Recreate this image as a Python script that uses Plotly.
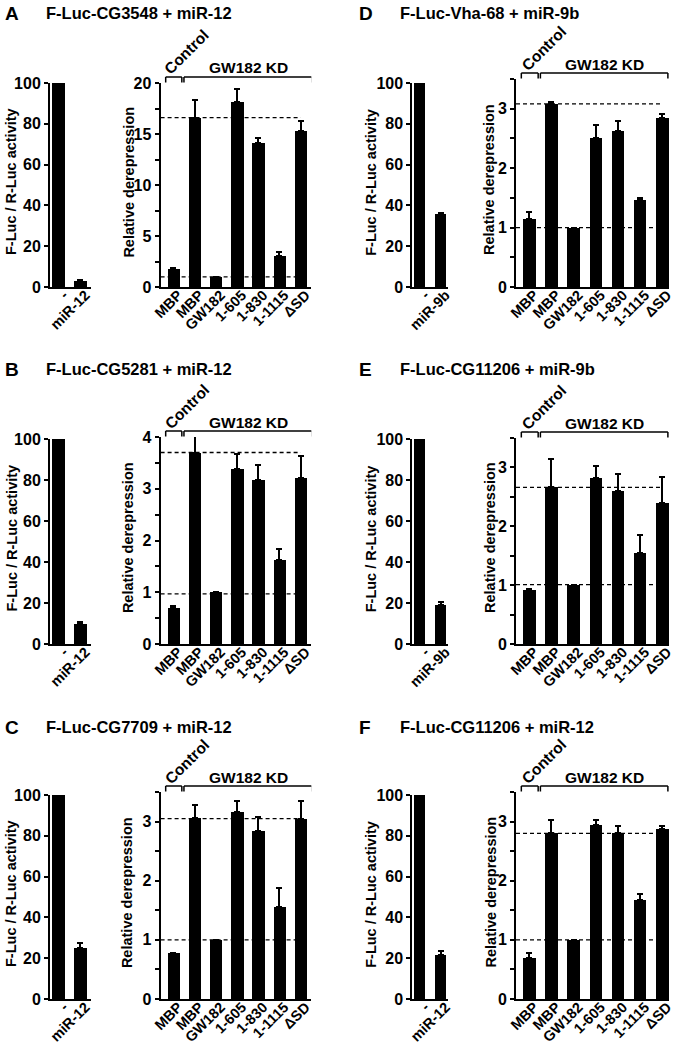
import plotly.graph_objects as go

# ---------------- data ----------------
conditions = ["MBP", "MBP", "GW182", "1-605", "1-830", "1-1115", "ΔSD"]
panel_letters = ["A", "B", "C", "D", "E", "F"]
reporters = ["F-Luc-CG3548", "F-Luc-CG5281", "F-Luc-CG7709",
             "F-Luc-Vha-68", "F-Luc-CG11206", "F-Luc-CG11206"]
mirnas = ["miR-12", "miR-12", "miR-12", "miR-9b", "miR-9b", "miR-12"]

activity_A = [100, 3.0]
activity_err_A = [0, 0.5]
activity_B = [100, 10.0]
activity_err_B = [0, 0.8]
activity_C = [100, 25.0]
activity_err_C = [0, 2.5]
activity_D = [100, 36.0]
activity_err_D = [0, 0.5]
activity_E = [100, 19.0]
activity_err_E = [0, 1.6]
activity_F = [100, 21.5]
activity_err_F = [0, 2.0]

derep_A = [1.75, 16.6, 1.0, 18.1, 14.1, 3.0, 15.3]
derep_err_A = [0.15, 1.75, 0.0, 1.3, 0.5, 0.4, 1.0]
derep_B = [0.70, 3.70, 1.0, 3.38, 3.16, 1.63, 3.20]
derep_err_B = [0.04, 0.32, 0.01, 0.30, 0.29, 0.20, 0.43]
derep_C = [0.77, 3.06, 1.0, 3.16, 2.84, 1.56, 3.05]
derep_err_C = [0.01, 0.22, 0.0, 0.19, 0.24, 0.32, 0.30]
derep_D = [1.15, 3.08, 1.0, 2.50, 2.62, 1.47, 2.84]
derep_err_D = [0.12, 0.04, 0.0, 0.23, 0.17, 0.02, 0.07]
derep_E = [0.92, 2.66, 1.0, 2.82, 2.60, 1.55, 2.40]
derep_err_E = [0.02, 0.48, 0.0, 0.20, 0.29, 0.30, 0.43]
derep_F = [0.70, 2.81, 1.0, 2.95, 2.81, 1.67, 2.88]
derep_err_F = [0.08, 0.22, 0.0, 0.08, 0.11, 0.10, 0.04]

reference_A = [16.6, 1.0]
reference_B = [3.70, 0.97]
reference_C = [3.05, 1.0]
reference_D = [3.08, 1.0]
reference_E = [2.66, 1.01]
reference_F = [2.80, 1.0]

yaxis_max = [20, 4, 3.5, 3.5, 3.5, 3.5]
yaxis_step = [5, 1, 1, 1, 1, 1]

activities = [activity_A, activity_B, activity_C, activity_D, activity_E, activity_F]
activity_errs = [activity_err_A, activity_err_B, activity_err_C,
                 activity_err_D, activity_err_E, activity_err_F]
dereps = [derep_A, derep_B, derep_C, derep_D, derep_E, derep_F]
derep_errs = [derep_err_A, derep_err_B, derep_err_C, derep_err_D, derep_err_E, derep_err_F]
references = [reference_A, reference_B, reference_C, reference_D, reference_E, reference_F]

# ---------------- layout geometry (pixels) ----------------
W, H = 675, 1046


def fx(px):
    return px / W


def fy(px):
    return 1 - px / H


FONT = "Liberation Sans, Arial, Helvetica, sans-serif"
YTICK = 16
XTICK = 14.5
cols = [
    dict(l_dom=(50, 90.7), l_rng=(-0.4, 1.47), l_bw=0.62, l_tshift=-39,
         r_dom=(160.6, 311.3), r_rng=(-0.6, 6.5), r_bw=0.58,
         letter_x=3, title_x=44, gw_end=6.55),
    dict(l_dom=(412.3, 448), l_rng=(-0.37, 1.35), l_bw=0.56, l_tshift=-41.5,
         r_dom=(516, 669), r_rng=(-0.6, 6.3), r_bw=0.56,
         letter_x=357, title_x=398, gw_end=6.25),
]
rows = [dict(bottom=287, l_top=83, title_y=13),
        dict(bottom=644, l_top=439, title_y=369),
        dict(bottom=999, l_top=795, title_y=727)]
right_tops = [83, 437, 792, 79, 438, 792]
right_tshift = [-32, -33, -34, -27, -26, -26]

fig = go.Figure()
layout = {}
annotations = []
shapes = []


def tfont(size):
    return dict(family=FONT, size=size, color="black", weight="bold")


def axname(n, kind):
    return kind + ("" if n == 1 else str(n))


xaxis_style = dict(tickangle=-45, showline=True, linecolor="black", linewidth=2, ticks="",
                   showgrid=False, zeroline=False, tickfont=tfont(XTICK), fixedrange=True,
                   automargin=False, ticklabelstandoff=-8, ticklabelshift=5)
yaxis_style = dict(showline=True, linecolor="black", linewidth=2, ticks="outside",
                   ticklen=4, tickwidth=2, tickcolor="black", showgrid=False,
                   zeroline=False, tickfont=tfont(YTICK), fixedrange=True, automargin=False)

for i in range(6):
    c = cols[i // 3]
    r = rows[i % 3]
    nl, nr = 2 * i + 1, 2 * i + 2

    # ---- left chart (activity) ----
    xl = list(range(len(activities[i])))
    fig.add_trace(go.Bar(
        x=xl, y=activities[i], width=c["l_bw"], marker=dict(color="black", line=dict(width=0)),
        error_y=dict(type="data", array=activity_errs[i], arrayminus=[0] * len(xl),
                     symmetric=False, color="black", thickness=2, width=3),
        xaxis=axname(nl, "x"), yaxis=axname(nl, "y"), showlegend=False, hoverinfo="skip"))
    layout[axname(nl, "xaxis")] = dict(
        domain=[fx(c["l_dom"][0]), fx(c["l_dom"][1])], range=list(c["l_rng"]),
        anchor=axname(nl, "y"), tickvals=xl, ticktext=["-", mirnas[i]], **xaxis_style)
    layout[axname(nl, "yaxis")] = dict(
        domain=[fy(r["bottom"]), fy(r["l_top"])], range=[0, 100], dtick=20,
        anchor=axname(nl, "x"), **yaxis_style)
    annotations.append(dict(
        text="F-Luc / R-Luc activity", textangle=-90, xref="paper", yref="paper",
        x=fx(c["l_dom"][0]), xshift=c["l_tshift"], y=fy((r["bottom"] + r["l_top"]) / 2 - 3),
        xanchor="center", yanchor="middle", showarrow=False, font=tfont(14.5)))

    # ---- right chart (relative derepression) ----
    xr = list(range(len(conditions)))
    fig.add_trace(go.Bar(
        x=xr, y=dereps[i], width=c["r_bw"], marker=dict(color="black", line=dict(width=0)),
        error_y=dict(type="data", array=derep_errs[i], arrayminus=[0] * len(xr),
                     symmetric=False, color="black", thickness=2, width=3),
        xaxis=axname(nr, "x"), yaxis=axname(nr, "y"), showlegend=False, hoverinfo="skip"))
    rtop = right_tops[i]
    dom_h = r["bottom"] - rtop
    layout[axname(nr, "xaxis")] = dict(
        domain=[fx(c["r_dom"][0]), fx(c["r_dom"][1])], range=list(c["r_rng"]),
        anchor=axname(nr, "y"), tickvals=xr, ticktext=conditions, **xaxis_style)
    layout[axname(nr, "yaxis")] = dict(
        domain=[fy(r["bottom"]), fy(rtop)], range=[0, yaxis_max[i]], dtick=yaxis_step[i],
        anchor=axname(nr, "x"),
        minor=dict(dtick=yaxis_step[i] / 2, ticks="outside", ticklen=4, tickwidth=1.5,
                   tickcolor="black", showgrid=False), **yaxis_style)
    annotations.append(dict(
        text="Relative derepression", textangle=-90, xref="paper", yref="paper",
        x=fx(c["r_dom"][0]), xshift=right_tshift[i], y=fy((r["bottom"] + rtop) / 2 - 3),
        xanchor="center", yanchor="middle", showarrow=False, font=tfont(14.5)))

    # dashed reference lines
    for ref in references[i]:
        shapes.append(dict(type="line", xref=axname(nr, "x"), yref=axname(nr, "y"),
                           x0=c["r_rng"][0], x1=xr[-1], y0=ref, y1=ref,
                           line=dict(color="black", width=1.3, dash="4px,3px")))

    # brackets
    yd = axname(nr, "y") + " domain"
    top = 1 + 6 / dom_h
    low = 1 + 0.5 / dom_h
    for (a, b) in [(-0.36, 0.4), (0.5, c["gw_end"])]:
        for (x0, y0, x1, y1) in [(a, low, a, top), (a, top, b, top), (b, top, b, low)]:
            shapes.append(dict(type="line", xref=axname(nr, "x"), yref=yd,
                               x0=x0, x1=x1, y0=y0, y1=y1,
                               line=dict(color="black", width=1.5)))
    annotations.append(dict(
        text="Control", textangle=-45, xref=axname(nr, "x"), yref=yd,
        x=0.64, y=1, yshift=31, xanchor="center", yanchor="middle",
        showarrow=False, font=tfont(15.5)))
    annotations.append(dict(
        text="GW182 KD", xref=axname(nr, "x"), yref=yd,
        x=(0.5 + c["gw_end"]) / 2, y=1, yshift=15, xanchor="center", yanchor="middle",
        showarrow=False, font=tfont(15.5)))

    # panel letter and title
    annotations.append(dict(
        text=panel_letters[i], xref="paper", yref="paper", x=fx(c["letter_x"]),
        y=fy(r["title_y"]), xanchor="left", yanchor="middle", showarrow=False,
        font=tfont(19)))
    annotations.append(dict(
        text=f"{reporters[i]} + {mirnas[i]}", xref="paper", yref="paper",
        x=fx(c["title_x"]), y=fy(r["title_y"]), xanchor="left", yanchor="middle",
        showarrow=False, font=tfont(16.5)))

fig.update_layout(
    template="none", width=W, height=H, margin=dict(l=0, r=0, t=0, b=0, autoexpand=False),
    paper_bgcolor="white", plot_bgcolor="white", showlegend=False,
    annotations=annotations, shapes=shapes, bargap=0, **layout)

fig.write_html(
    "out.html",
    config={"displayModeBar": False},
    post_script="document.body.style.margin='0';document.body.style.overflow='hidden';")
